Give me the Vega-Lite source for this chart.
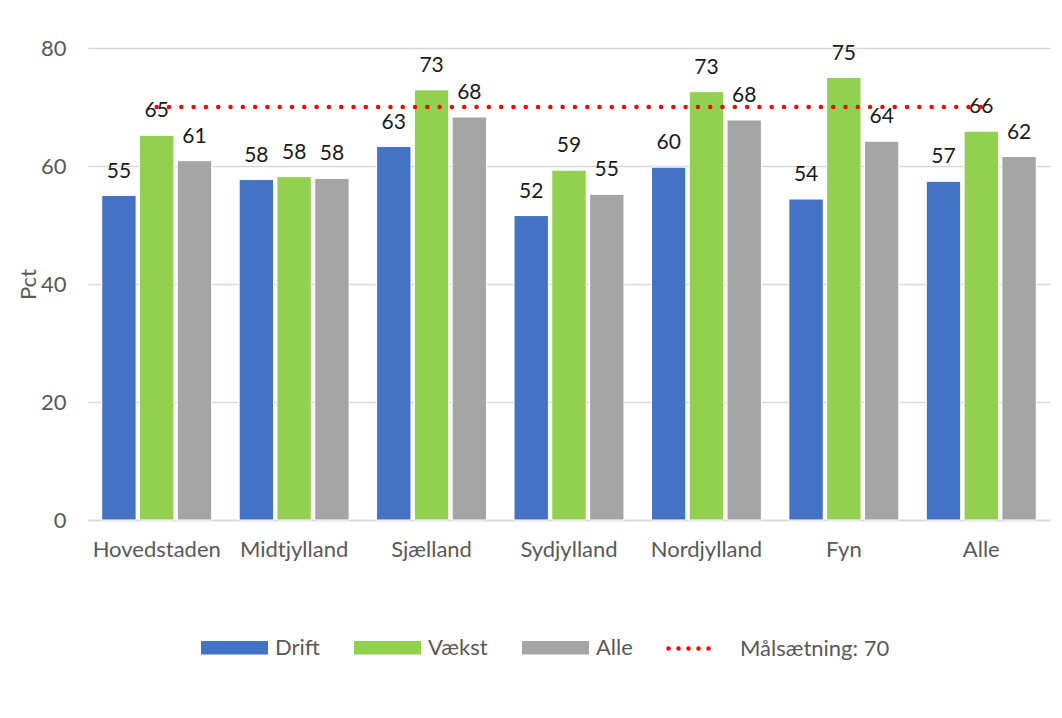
{
  "$schema": "https://vega.github.io/schema/vega-lite/v6.json",
  "width": 962,
  "height": 472,
  "autosize": "none",
  "padding": {"left": 88, "top": 48, "right": 12, "bottom": 198},
  "background": "white",
  "config": {
    "font": "Lato",
    "view": {"stroke": null},
    "axis": {"labelFont": "Lato", "titleFont": "Lato", "labelColor": "#595959", "titleColor": "#595959", "labelFontSize": 22, "titleFontSize": 22, "titleFontWeight": "normal"},
    "legend": {"labelFont": "Lato", "labelFontSize": 22, "labelColor": "#595959"}
  },
  "datasets": {
    "bars": [
      {"region": "Hovedstaden", "serie": "Drift", "value": 55.0},
      {"region": "Hovedstaden", "serie": "Vækst", "value": 65.2},
      {"region": "Hovedstaden", "serie": "Alle", "value": 60.9},
      {"region": "Midtjylland", "serie": "Drift", "value": 57.7},
      {"region": "Midtjylland", "serie": "Vækst", "value": 58.2},
      {"region": "Midtjylland", "serie": "Alle", "value": 57.9},
      {"region": "Sjælland", "serie": "Drift", "value": 63.3},
      {"region": "Sjælland", "serie": "Vækst", "value": 72.9},
      {"region": "Sjælland", "serie": "Alle", "value": 68.3},
      {"region": "Sydjylland", "serie": "Drift", "value": 51.6},
      {"region": "Sydjylland", "serie": "Vækst", "value": 59.3},
      {"region": "Sydjylland", "serie": "Alle", "value": 55.2},
      {"region": "Nordjylland", "serie": "Drift", "value": 59.8},
      {"region": "Nordjylland", "serie": "Vækst", "value": 72.6},
      {"region": "Nordjylland", "serie": "Alle", "value": 67.8},
      {"region": "Fyn", "serie": "Drift", "value": 54.4},
      {"region": "Fyn", "serie": "Vækst", "value": 75.0},
      {"region": "Fyn", "serie": "Alle", "value": 64.2},
      {"region": "Alle", "serie": "Drift", "value": 57.4},
      {"region": "Alle", "serie": "Vækst", "value": 65.9},
      {"region": "Alle", "serie": "Alle", "value": 61.6}
    ],
    "target": [
      {"region": "Hovedstaden", "serie": "Målsætning: 70", "value": 70},
      {"region": "Midtjylland", "serie": "Målsætning: 70", "value": 70},
      {"region": "Sjælland", "serie": "Målsætning: 70", "value": 70},
      {"region": "Sydjylland", "serie": "Målsætning: 70", "value": 70},
      {"region": "Nordjylland", "serie": "Målsætning: 70", "value": 70},
      {"region": "Fyn", "serie": "Målsætning: 70", "value": 70},
      {"region": "Alle", "serie": "Målsætning: 70", "value": 70}
    ]
  },
  "layer": [
    {
      "data": {"name": "bars"},
      "mark": {"type": "bar", "stroke": "white", "strokeWidth": 1},
      "encoding": {
        "x": {
          "field": "region", "type": "nominal",
          "sort": ["Hovedstaden", "Midtjylland", "Sjælland", "Sydjylland", "Nordjylland", "Fyn", "Alle"],
          "scale": {"paddingInner": 0.2, "paddingOuter": 0.1},
          "axis": {"title": null, "labelAngle": 0, "ticks": false, "domainColor": "#D9D9D9", "domainWidth": 1.5, "labelPadding": 19}
        },
        "xOffset": {"field": "serie", "type": "nominal", "sort": ["Drift", "Vækst", "Alle"], "scale": {"paddingInner": 0.09, "paddingOuter": 0}},
        "y": {
          "field": "value", "type": "quantitative",
          "scale": {"domain": [0, 80], "nice": false},
          "axis": {"title": "Pct", "values": [0, 20, 40, 60, 80], "domain": false, "ticks": false, "gridColor": "#D9D9D9", "gridWidth": 1.3, "labelPadding": 22, "titlePadding": 0}
        },
        "color": {
          "field": "serie", "type": "nominal",
          "scale": {"domain": ["Drift", "Vækst", "Alle"], "range": ["#4472C4", "#92D050", "#A5A5A5"]},
          "legend": {
            "title": null, "orient": "none", "legendX": 113, "legendY": 566, "direction": "horizontal",
            "symbolType": "M-1,-0.2L1,-0.2L1,0.2L-1,0.2Z", "symbolSize": 4489, "symbolStrokeWidth": 0,
            "columnPadding": 34, "labelOffset": 7
          }
        }
      }
    },
    {
      "data": {"name": "bars"},
      "mark": {"type": "text", "dy": -24, "fontSize": 21, "color": "#1a1a1a", "baseline": "middle"},
      "encoding": {
        "x": {"field": "region", "type": "nominal", "sort": ["Hovedstaden", "Midtjylland", "Sjælland", "Sydjylland", "Nordjylland", "Fyn", "Alle"]},
        "xOffset": {"field": "serie", "type": "nominal", "sort": ["Drift", "Vækst", "Alle"]},
        "y": {"field": "value", "type": "quantitative"},
        "text": {"field": "value", "type": "quantitative", "format": ".0f"}
      }
    },
    {
      "data": {"name": "target"},
      "mark": {"type": "line", "strokeWidth": 4.5, "strokeDash": [0, 12.3], "strokeCap": "round"},
      "encoding": {
        "x": {"field": "region", "type": "nominal", "bandPosition": 0.5, "sort": ["Hovedstaden", "Midtjylland", "Sjælland", "Sydjylland", "Nordjylland", "Fyn", "Alle"]},
        "y": {"field": "value", "type": "quantitative"},
        "stroke": {
          "field": "serie", "type": "nominal",
          "scale": {"domain": ["Målsætning: 70"], "range": ["#FF0000"]},
          "legend": {
            "title": null, "orient": "none", "legendX": 578, "legendY": 573, "direction": "horizontal",
            "symbolType": "stroke", "symbolSize": 2500, "symbolStrokeWidth": 4.5, "symbolDash": [0, 10],
            "symbolStrokeColor": "#FF0000", "labelOffset": 19,
            "encode": {"symbols": {"update": {"strokeCap": {"value": "round"}}}}
          }
        }
      }
    }
  ]
}
